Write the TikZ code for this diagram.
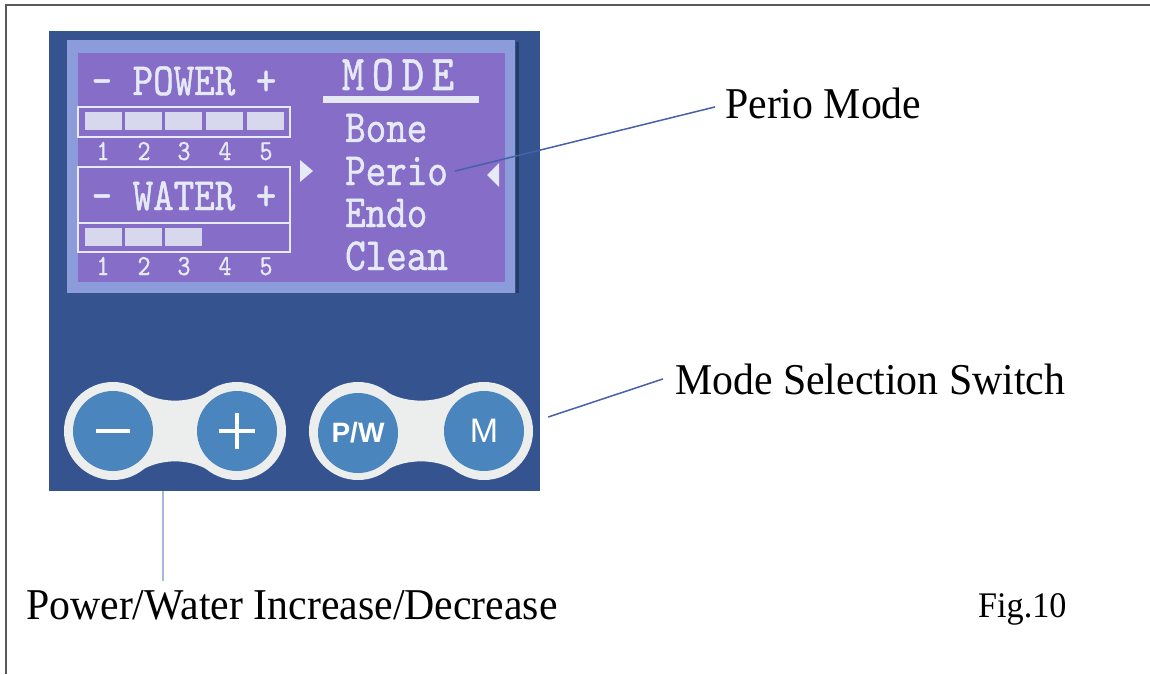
\documentclass[tikz,border=0pt]{standalone}
\usepackage{fontspec}
\setmainfont{Liberation Serif}[FakeStretch=0.95]
\newfontfamily\lcdfont{lmmono10-regular.otf}[FakeStretch=0.85,FakeBold=1]
\newfontfamily\keyfont{Liberation Sans}
\usepackage{tikz}
\usetikzlibrary{positioning, calc}
\definecolor{panelblue}{RGB}{53,84,143}
\definecolor{lcdframe}{RGB}{140,156,218}
\definecolor{lcdpurple}{RGB}{134,110,200}
\definecolor{lcdink}{RGB}{230,234,245}
\definecolor{keyblue}{RGB}{74,134,189}
\definecolor{keyring}{RGB}{236,238,238}
\definecolor{leader}{RGB}{70,96,172}
\definecolor{leaderlight}{RGB}{168,182,222}

% white outline joining two keys
\newcommand{\keypair}[2]{%
  \fill[keyring] (#1,431) circle[radius=49] (#2,431) circle[radius=49];
  \fill[keyring] ({#1+31.5},393.5) .. controls ({#1+50},403) and ({#2-50},403) .. ({#2-31.5},393.5)
    -- ({#2-31.5},468.5) .. controls ({#2-50},459) and ({#1+50},459) .. ({#1+31.5},468.5) -- cycle;
}

\begin{document}
\begin{tikzpicture}[x=1pt, y=-1pt]
        % Define styles
        \tikzstyle{lcdtxt} = [inner sep=0pt, text=lcdink, font=\lcdfont\fontsize{46}{48}\selectfont]
        \tikzstyle{lcddigit} = [inner sep=0pt, text=lcdink, font=\lcdfont\fontsize{29}{30}\selectfont, anchor=base]
        \tikzstyle{keycap} = [circle, fill=keyblue, minimum size=80pt, inner sep=0pt, text=white]
        \tikzstyle{keymark} = [white, line width=4.5pt]
        \tikzstyle{calltext} = [inner sep=0pt, anchor=base west, font=\fontsize{44}{48}\selectfont]
        \tikzstyle{leadline} = [leader, line width=1.5pt]

        \useasboundingbox (0,0) rectangle (1150,674);

        % Page frame
        \draw[gray!70!black, line width=1.8pt] (6,674) -- (6,5) -- (1150,5);

        % Panel and display
        \fill[panelblue] (49,31) rectangle (540,491);
        \fill[lcdframe] (67,40) rectangle (515,293);
        \draw[panelblue!70!black, line width=3pt] (517,42) -- (517,293);
        \fill[lcdpurple] (78,53) rectangle (505,282);

        % Power and water bars
        \node[lcdtxt, anchor=base] (powerhdr) at (184,95) {- POWER +};
        \node[lcdtxt, anchor=base] (waterhdr) at (184,210) {- WATER +};
        \draw[lcdink, line width=2.5pt] (78,107) rectangle (290,137);
        \draw[lcdink, line width=2.5pt] (78,167) rectangle (290,252);
        \draw[lcdink, line width=2.5pt] (78,223) -- (290,223);
        \foreach \x in {85,125,165,206,247}
            \fill[lcdink!85!lcdpurple] (\x,112) rectangle ++(37,18);
        \foreach \x in {85,125,165}
            \fill[lcdink!85!lcdpurple] (\x,228) rectangle ++(37,18);
        \foreach \x [count=\i] in {103,144,184,225,266} {
            \node[lcddigit] (pdig\i) at (\x,160) {\i};
            \node[lcddigit] (wdig\i) at (\x,275) {\i};
        }

        % Mode list
        \foreach \c [count=\i] in {M,O,D,E}
            \node[lcdtxt, anchor=base, font=\lcdfont\fontsize{50}{52}\selectfont] (mode\i) at ({353+30*(\i-1)},90) {\c};
        \fill[lcdink] (323,96) rectangle (479,103);
        \foreach \name/\y in {Bone/142, Perio/185, Endo/227, Clean/270}
            \node[lcdtxt, anchor=base west] (\name) at (345,\y) {\name};
        \fill[lcdink] (300,160) -- (313,171) -- (300,182) -- cycle;
        \fill[lcdink] (499,163) -- (487,175) -- (499,187) -- cycle;

        % Keys
        \keypair{113}{237}
        \keypair{358}{484}
        \node[keycap] (minus) at (113,431) {};
        \node[keycap] (plus) at (237,431) {};
        \node[keycap, font=\keyfont\bfseries\fontsize{28}{28}\selectfont] (pw) at (358,433) {P/W};
        \node[keycap, font=\keyfont\fontsize{34}{34}\selectfont] (mkey) at (484,431) {M};
        \draw[keymark] ([xshift=-17pt]minus.center) -- ([xshift=17pt]minus.center);
        \draw[keymark] ([xshift=-18pt]plus.center) -- ([xshift=18pt]plus.center);
        \draw[keymark] ([yshift=-18pt]plus.center) -- ([yshift=18pt]plus.center);

        % Callouts
        \node[calltext] (periolbl) at (725,119) {Perio Mode};
        \node[calltext] (modelbl) at (675,394) {Mode Selection Switch};
        \node[calltext] (pwlbl) at (26,619) {Power/Water Increase/Decrease};
        \node[calltext, font=\fontsize{36}{40}\selectfont] (figlbl) at (978,617) {Fig.10};

        % Leader lines
        \coordinate (pwtip) at (163,491);
        \draw[leadline] ([xshift=7pt]Perio.east) -- ([xshift=-10pt, yshift=-3pt]periolbl.west);
        \draw[leadline] ([xshift=24pt, yshift=14pt]mkey.east) -- ([xshift=-12pt]modelbl.west);
        \draw[leaderlight, line width=1.8pt, shorten >=9pt] (pwtip) -- (pwtip |- pwlbl.north);

\end{tikzpicture}
\end{document}
